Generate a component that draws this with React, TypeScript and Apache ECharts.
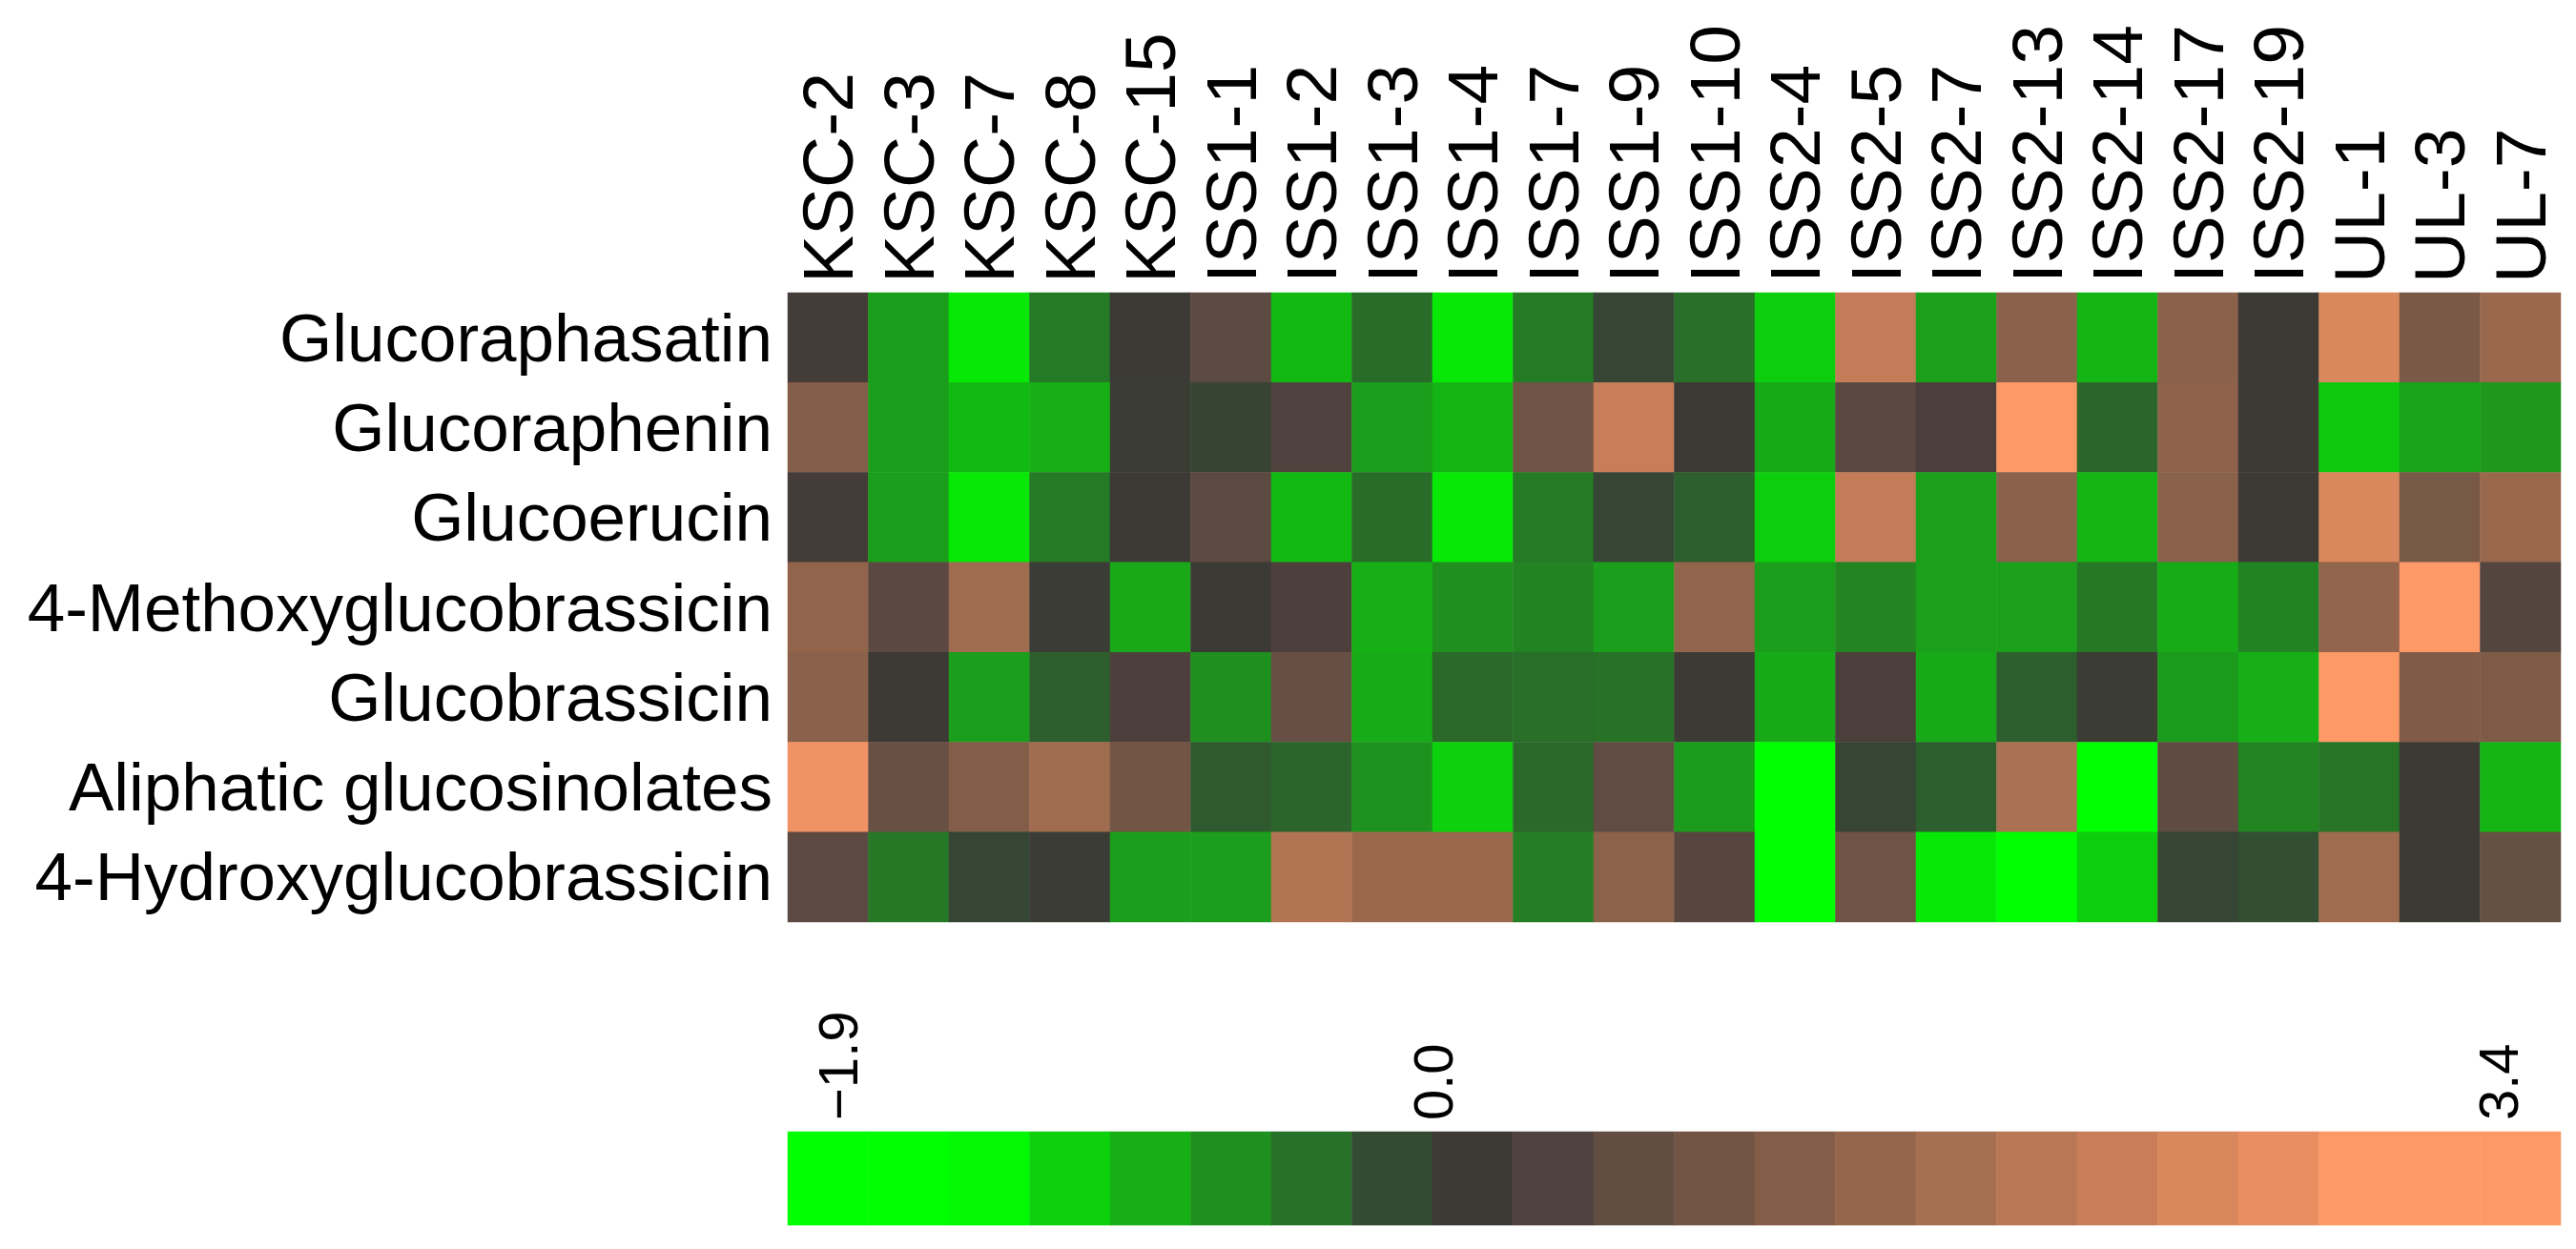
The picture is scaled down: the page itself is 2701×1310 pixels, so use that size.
import React, { useEffect, useRef } from "react";
import * as echarts from "echarts";

const samples = [
  "KSC-2", "KSC-3", "KSC-7", "KSC-8", "KSC-15",
  "ISS1-1", "ISS1-2", "ISS1-3", "ISS1-4", "ISS1-7", "ISS1-9", "ISS1-10",
  "ISS2-4", "ISS2-5", "ISS2-7", "ISS2-13", "ISS2-14", "ISS2-17", "ISS2-19",
  "UL-1", "UL-3", "UL-7",
];

const compounds = [
  "Glucoraphasatin",
  "Glucoraphenin",
  "Glucoerucin",
  "4-Methoxyglucobrassicin",
  "Glucobrassicin",
  "Aliphatic glucosinolates",
  "4-Hydroxyglucobrassicin",
];

const glucoraphasatin = [0.2, -0.75, -1.29, -0.47, 0.1, 0.55, -0.96, -0.36, -1.29, -0.47, -0.05, -0.37, -1.12, 2.06, -0.77, 1.23, -0.92, 1.23, 0.1, 2.39, 1.0, 1.45];
const glucoraphenin = [1.13, -0.75, -0.96, -0.89, 0.06, -0.03, 0.37, -0.75, -0.92, 0.83, 2.12, 0.12, -0.84, 0.53, 0.3, 3.0, -0.31, 1.3, 0.1, -1.08, -0.8, -0.7];
const glucoerucin = [0.2, -0.75, -1.29, -0.47, 0.12, 0.55, -0.96, -0.36, -1.29, -0.47, -0.05, -0.26, -1.12, 2.06, -0.77, 1.23, -0.92, 1.23, 0.1, 2.39, 0.96, 1.45];
const methoxyglucobrassicin = [1.33, 0.52, 1.54, 0.07, -0.83, 0.1, 0.35, -0.89, -0.64, -0.54, -0.75, 1.33, -0.75, -0.56, -0.77, -0.77, -0.45, -0.86, -0.54, 1.35, 3.3, 0.45];
const glucobrassicin = [1.23, 0.12, -0.75, -0.27, 0.35, -0.64, 0.7, -0.86, -0.34, -0.37, -0.4, 0.1, -0.84, 0.3, -0.84, -0.26, 0.06, -0.72, -0.88, 3.1, 1.08, 1.06];
const aliphatic = [2.74, 0.72, 1.13, 1.54, 0.88, -0.23, -0.31, -0.65, -1.14, -0.34, 0.61, -0.72, -1.9, -0.05, -0.26, 1.68, -1.9, 0.58, -0.56, -0.42, 0.12, -0.92];
const hydroxyglucobrassicin = [0.55, -0.45, -0.06, 0.07, -0.75, -0.75, 1.8, 1.45, 1.45, -0.51, 1.26, 0.47, -1.9, 0.83, -1.29, -1.9, -1.12, -0.05, -0.16, 1.54, 0.1, 0.68];

const rows = [
  glucoraphasatin,
  glucoraphenin,
  glucoerucin,
  methoxyglucobrassicin,
  glucobrassicin,
  aliphatic,
  hydroxyglucobrassicin,
];

const scaleMin = -1.9;
const scaleMax = 3.4;
const scaleLabels = [-1.9, 0.0, 3.4];
const scaleAxisMin = -2.06;
const scaleAxisMax = 3.6;
const legendSteps = [-1.9, -1.65, -1.4, -1.14, -0.89, -0.64, -0.39, -0.13, 0.12, 0.37, 0.62, 0.88, 1.13, 1.38, 1.63, 1.89, 2.14, 2.39, 2.64, 2.9, 3.15, 3.4];
const legendColors = [
  "#00ff00", "#00ff00", "#03f903", "#0cd10c", "#16b016", "#1f8f1f", "#287028", "#334b33",
  "#3d3935", "#4f413d", "#624d43", "#725545", "#835d48", "#95664c", "#a76f51", "#b87855",
  "#c97e59", "#d9875d", "#e98e61", "#fc9966", "#fc9966", "#fc9966",
];

const FONT = "'Liberation Sans', Arial, sans-serif";

export default function App() {
  const ref = useRef<HTMLDivElement>(null);
  useEffect(() => {
    if (!ref.current) return;
    const chart = echarts.init(ref.current, undefined, { renderer: "svg" });
    const cellData: [number, number, number][] = [];
    rows.forEach((row, r) => row.forEach((v, c) => cellData.push([c, r, v])));
    const legendData = legendSteps.map((v, i) => [i, 0, v]);
    const gridLeft = 826;
    const gridWidth = 1859;
    chart.setOption({
      animation: false,
      backgroundColor: "#ffffff",
      textStyle: { fontFamily: FONT },
      grid: [
        { left: gridLeft, top: 307, width: gridWidth, height: 660 },
        { left: gridLeft, top: 1187, width: gridWidth, height: 98 },
      ],
      xAxis: [
        {
          type: "category",
          gridIndex: 0,
          data: samples,
          position: "top",
          axisLine: { show: false },
          axisTick: { show: false },
          splitLine: { show: false },
          axisLabel: {
            rotate: -90,
            interval: 0,
            margin: 10,
            fontSize: 75,
            color: "#000",
            fontFamily: FONT,
          },
        },
        {
          type: "category",
          gridIndex: 1,
          data: legendSteps.map((v) => String(v)),
          show: false,
        },
        {
          type: "value",
          gridIndex: 1,
          position: "top",
          min: scaleAxisMin,
          max: scaleAxisMax,
          axisLine: { show: false },
          axisTick: { show: false },
          splitLine: { show: false },
          axisLabel: {
            customValues: scaleLabels,
            rotate: -90,
            margin: 12,
            fontSize: 58,
            color: "#000",
            fontFamily: FONT,
            formatter: (v: number) => (v < 0 ? "\u2212" + Math.abs(v).toFixed(1) : v.toFixed(1)),
          },
        },
      ],
      yAxis: [
        {
          type: "category",
          gridIndex: 0,
          data: compounds,
          inverse: true,
          axisLine: { show: false },
          axisTick: { show: false },
          splitLine: { show: false },
          axisLabel: {
            interval: 0,
            margin: 16,
            fontSize: 71,
            color: "#000",
            fontFamily: FONT,
          },
        },
        {
          type: "category",
          gridIndex: 1,
          data: ["scale"],
          show: false,
        },
      ],
      visualMap: {
        type: "continuous",
        show: false,
        min: scaleMin,
        max: scaleMax,
        seriesIndex: [0, 1],
        inRange: { color: legendColors },
      },
      series: [
        {
          type: "heatmap",
          xAxisIndex: 0,
          yAxisIndex: 0,
          data: cellData,
          itemStyle: { borderWidth: 0 },
          emphasis: { disabled: true },
        },
        {
          type: "heatmap",
          xAxisIndex: 1,
          yAxisIndex: 1,
          data: legendData,
          itemStyle: { borderWidth: 0 },
          emphasis: { disabled: true },
        },
      ],
    });
    return () => chart.dispose();
  }, []);
  return (
    <div
      ref={ref}
      style={{ position: "fixed", left: 0, top: 0, width: 2701, height: 1310, background: "#fff" }}
    />
  );
}
